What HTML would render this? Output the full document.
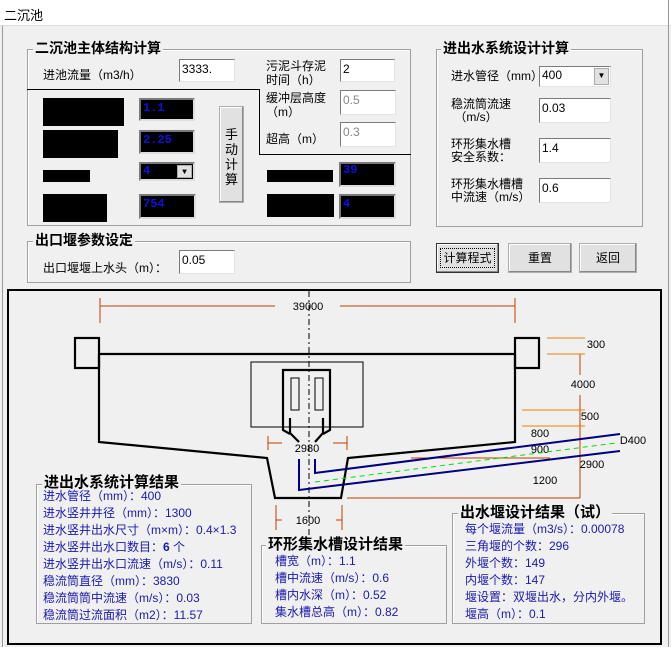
<!DOCTYPE html>
<html><head><meta charset="utf-8"><style>
*{margin:0;padding:0;box-sizing:border-box}
body{width:671px;height:647px;background:#f0f0f0;position:relative;overflow:hidden;font-family:"Liberation Sans","Noto Sans CJK SC","WenQuanYi Zen Hei",sans-serif;font-size:12px;color:#000}
.a{position:absolute;white-space:nowrap}
.gb{position:absolute;border:1px solid #a0a0a0;box-shadow:1px 1px 0 #fff inset}
.gt{position:absolute;background:#f0f0f0;font-weight:bold;font-size:14px;padding:0 2px;line-height:17px}
.in{position:absolute;background:#fff;border:1px solid #7a7a7a;border-right-color:#e3e3e3;border-bottom-color:#e3e3e3;padding:1px 2px;line-height:16px;font-size:12px}
.bk{position:absolute;background:#000}
.bv{position:absolute;background:#000;border:2px solid #7a7a7a;border-right-color:#ddd;border-bottom-color:#ddd;color:#1010e0;font-family:"Liberation Mono",monospace;font-weight:bold;font-size:12px;padding:0 2px;line-height:16px}
.btn{position:absolute;background:#e1e1e1;border:1px solid #adadad;box-shadow:inset -1px -1px 0 #888,inset 1px 1px 0 #fff;text-align:center;font-size:12px}
.r{color:#1a1ab0;font-size:12px;line-height:17px}
.dd{position:absolute;right:1px;top:1px;bottom:1px;width:15px;background:#e1e1e1;border:1px solid #aaa;font-size:8px;text-align:center;line-height:14px;color:#000}
</style></head><body>
<div class="a" style="left:0;top:0;width:671px;height:26px;background:#fff;border-bottom:1px solid #ddd"></div>
<div class="a" style="left:4px;top:5px;font-size:13px">二沉池</div>
<div class="a" style="left:2px;top:26px;width:1px;height:621px;background:#999"></div>
<div class="a" style="left:668px;top:0;width:1px;height:647px;background:#999"></div>

<!-- group 1 -->
<div class="gb" style="left:27px;top:49px;width:384px;height:177px"></div>
<div class="gt" style="left:33px;top:40px">二沉池主体结构计算</div>
<div class="a" style="left:43px;top:66px">进池流量（m3/h）</div>
<div class="in" style="left:179px;top:59px;width:56px;height:23px">3333.</div>
<div class="a" style="left:266px;top:59px;line-height:14px">污泥斗存泥<br>时间（h）</div>
<div class="in" style="left:340px;top:59px;width:55px;height:23px">2</div>
<div class="a" style="left:266px;top:91px;line-height:14px">缓冲层高度<br>（m）</div>
<div class="in" style="left:340px;top:90px;width:56px;height:25px;color:#888">0.5</div>
<div class="a" style="left:266px;top:130px">超高（m）</div>
<div class="in" style="left:340px;top:122px;width:56px;height:25px;color:#888">0.3</div>
<div class="a" style="left:27px;top:89px;width:233px;height:1px;background:#000"></div>
<div class="a" style="left:259px;top:89px;width:1px;height:66px;background:#000"></div>
<div class="a" style="left:259px;top:154px;width:152px;height:1px;background:#000"></div>
<div class="bk" style="left:43px;top:98px;width:81px;height:28px"></div>
<div class="bk" style="left:43px;top:130px;width:75px;height:28px"></div>
<div class="bk" style="left:43px;top:170px;width:47px;height:12px"></div>
<div class="bk" style="left:43px;top:194px;width:64px;height:28px"></div>
<div class="bv" style="left:139px;top:98px;width:56px;height:23px">1.1</div>
<div class="bv" style="left:139px;top:130px;width:56px;height:24px">2.25</div>
<div class="bv" style="left:139px;top:162px;width:56px;height:19px;line-height:14px">4<span class="dd">▼</span></div>
<div class="bv" style="left:139px;top:194px;width:57px;height:25px">754</div>
<div class="btn" style="left:219px;top:106px;width:25px;height:97px;padding-top:20px;line-height:15px;font-size:13px">手<br>动<br>计<br>算</div>
<div class="bk" style="left:267px;top:170px;width:66px;height:12px"></div>
<div class="bk" style="left:267px;top:194px;width:67px;height:23px"></div>
<div class="bv" style="left:339px;top:162px;width:57px;height:25px;line-height:12px">39</div>
<div class="bv" style="left:339px;top:194px;width:57px;height:25px">4</div>

<!-- group 2 -->
<div class="gb" style="left:27px;top:241px;width:384px;height:42px"></div>
<div class="gt" style="left:33px;top:232px">出口堰参数设定</div>
<div class="a" style="left:43px;top:259px">出口堰堰上水头（m）：</div>
<div class="in" style="left:179px;top:250px;width:56px;height:24px">0.05</div>

<!-- right group -->
<div class="gb" style="left:436px;top:49px;width:207px;height:178px"></div>
<div class="gt" style="left:441px;top:40px">进出水系统设计计算</div>
<div class="a" style="left:451px;top:67px">进水管径（mm）</div>
<div class="in" style="left:539px;top:66px;width:72px;height:21px;line-height:15px">400<span class="dd">▼</span></div>
<div class="a" style="left:451px;top:98px;line-height:13px">稳流筒流速<br>&nbsp;（m/s）</div>
<div class="in" style="left:539px;top:98px;width:72px;height:25px">0.03</div>
<div class="a" style="left:451px;top:138px;line-height:13px">环形集水槽<br>安全系数：</div>
<div class="in" style="left:539px;top:138px;width:72px;height:25px">1.4</div>
<div class="a" style="left:451px;top:178px;line-height:13px">环形集水槽槽<br>中流速（m/s）</div>
<div class="in" style="left:539px;top:178px;width:72px;height:25px">0.6</div>
<div class="btn" style="left:436px;top:243px;width:63px;height:30px;line-height:28px;border:1px solid #333"><span style="border:1px dotted #000;padding:2px 2px">计算程式</span></div>
<div class="btn" style="left:508px;top:243px;width:64px;height:30px;line-height:28px">重置</div>
<div class="btn" style="left:579px;top:243px;width:58px;height:30px;line-height:28px">返回</div>

<!-- drawing -->
<div class="a" style="left:7px;top:289px;width:655px;height:356px;border:2px solid #000"></div>
<svg class="a" style="left:0;top:0" width="671" height="647" font-family="Liberation Sans, sans-serif" font-size="11">
<line x1="309" y1="291" x2="309" y2="540" stroke="#000" stroke-dasharray="6,3,2,3"/>
<g stroke="#c04000" fill="none">
<line x1="100" y1="306" x2="275" y2="306"/><line x1="340" y1="306" x2="515" y2="306"/>
<line x1="100" y1="298" x2="100" y2="323"/><line x1="515" y1="298" x2="515" y2="323"/>
<line x1="268" y1="436" x2="268" y2="450"/><line x1="268" y1="443" x2="282" y2="443"/>
<line x1="347" y1="436" x2="347" y2="450"/><line x1="333" y1="443" x2="347" y2="443"/>
<line x1="276" y1="505" x2="276" y2="530"/><line x1="276" y1="520" x2="282" y2="520"/>
<line x1="342" y1="505" x2="342" y2="530"/><line x1="336" y1="520" x2="342" y2="520"/>
<line x1="347" y1="498" x2="580" y2="498"/>
<line x1="580" y1="354" x2="580" y2="375"/><line x1="580" y1="395" x2="580" y2="498"/>
<line x1="411" y1="458" x2="550" y2="458"/>
</g>
<g stroke="#f08000"><line x1="547" y1="338" x2="585" y2="338"/><line x1="547" y1="354" x2="585" y2="354"/>
<line x1="522" y1="410" x2="585" y2="410"/><line x1="522" y1="426" x2="585" y2="426"/></g>
<g fill="#000" text-anchor="middle">
<text x="308" y="310">39000</text><text x="307" y="452">2980</text><text x="308" y="524">1600</text>
<text x="596" y="348">300</text><text x="583" y="388">4000</text><text x="590" y="420">500</text>
<text x="540" y="437">800</text><text x="540" y="453">900</text><text x="592" y="468">2900</text>
<text x="545" y="484">1200</text><text x="633" y="444">D400</text></g>
<g stroke="#000" stroke-width="2.2" fill="none">
<rect x="75" y="338" width="24" height="30"/><rect x="515" y="338" width="24" height="30"/>
<line x1="99" y1="354" x2="515" y2="354"/>
<polyline points="99,354 99,442 267,458 275,498 341,498 348,458 515,442 515,354"/>
<polyline points="290,434 283,430 283,370 330,370 330,430 323,434"/>
<line x1="290" y1="418" x2="290" y2="433"/><line x1="323" y1="418" x2="323" y2="433"/>
<line x1="290" y1="433" x2="299" y2="442"/><line x1="323" y1="433" x2="315" y2="442"/>
</g>
<rect x="251" y="362" width="112" height="65" fill="none" stroke="#000"/>
<rect x="291" y="378" width="8" height="32" fill="none" stroke="#000"/>
<rect x="315" y="378" width="8" height="32" fill="none" stroke="#000"/>
<g stroke="#000080" stroke-width="2" fill="none">
<polyline points="299,459 299,490 620,451"/><polyline points="315,459 315,473 620,434"/></g>
<line x1="315" y1="482" x2="616" y2="443" stroke="#00e000" stroke-dasharray="5,4"/>
</svg>

<!-- result groups -->
<div class="gb" style="left:36px;top:484px;width:216px;height:140px"></div>
<div class="gt" style="left:42px;top:474px;font-size:15px">进出水系统计算结果</div>
<div class="a r" style="left:43px;top:488px">进水管径（mm）：400<br>进水竖井井径（mm）：1300<br>进水竖井出水尺寸（m×m）：0.4×1.3<br>进水竖井出水口数目：<b>6</b> 个<br>进水竖井出水口流速（m/s）：0.11<br>稳流筒直径（mm）：3830<br>稳流筒筒中流速（m/s）：0.03<br>稳流筒过流面积（m2）：11.57</div>
<div class="gb" style="left:261px;top:545px;width:186px;height:79px"></div>
<div class="gt" style="left:266px;top:536px;font-size:15px">环形集水槽设计结果</div>
<div class="a r" style="left:275px;top:553px">槽宽（m）：1.1<br>槽中流速（m/s）：0.6<br>槽内水深（m）：0.52<br>集水槽总高（m）：0.82</div>
<div class="gb" style="left:452px;top:513px;width:193px;height:111px"></div>
<div class="gt" style="left:458px;top:504px;font-size:15px">出水堰设计结果（试）</div>
<div class="a r" style="left:465px;top:521px">每个堰流量（m3/s）：0.00078<br>三角堰的个数：296<br>外堰个数：149<br>内堰个数：147<br>堰设置：双堰出水，分内外堰。<br>堰高（m）：0.1</div>
</body></html>
